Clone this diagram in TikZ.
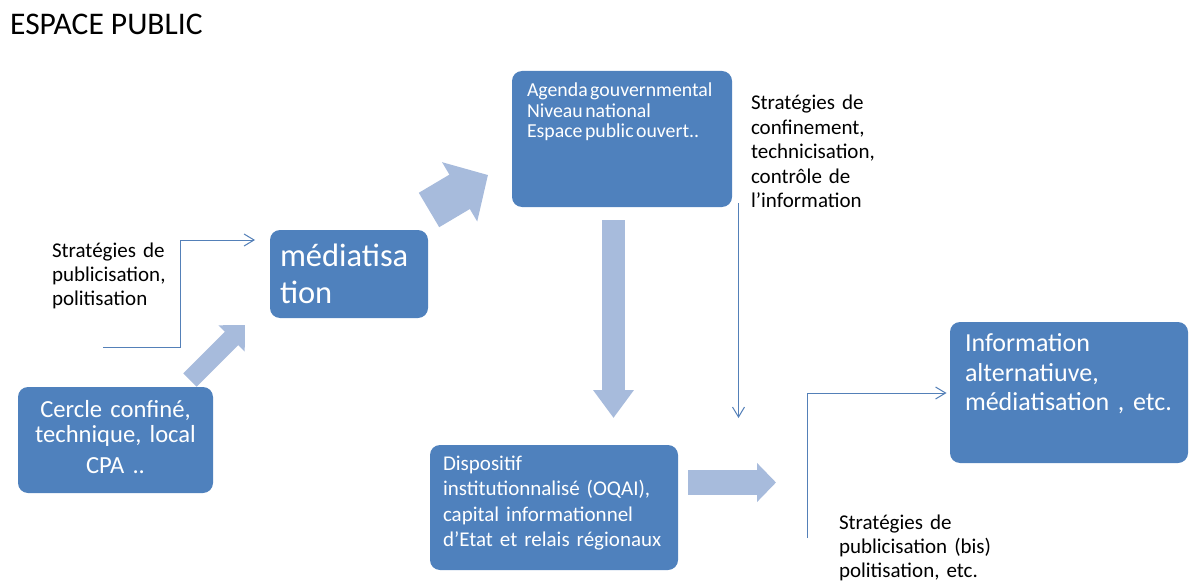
\documentclass[tikz,border=0pt]{standalone}
\usepackage{fontspec}
\setmainfont{Carlito}
\usetikzlibrary{arrows.meta}
\definecolor{boxblue}{RGB}{79,129,189}
\definecolor{arrowfill}{RGB}{167,187,220}
\definecolor{thinline}{RGB}{84,128,184}
\begin{document}
\begin{tikzpicture}[x=1pt,y=-1pt,
  box/.style={fill=boxblue, rounded corners=10pt, inner sep=0pt, outer sep=0pt},
  wtext/.style={text=white, anchor=base west, inner sep=0pt, outer sep=0pt, align=left},
  btext/.style={text=black, anchor=base west, inner sep=0pt, outer sep=0pt, align=left,
    font=\fontsize{21}{24.3}\selectfont},
  blockarrow/.style n args={3}{draw=arrowfill, line width=#1pt,
    -{Triangle[width=#2pt,length=#3pt,fill=arrowfill]}},
  thin/.style={draw=thinline, line width=1pt, -{Straight Barb[length=10pt,width=12pt]}}]
\useasboundingbox (0,0) rectangle (1189,583);

% title
\node[anchor=base west, inner sep=0pt, font=\fontsize{31.5}{36}\selectfont] (title) at (10,35) {ESPACE PUBLIC};

% boxes
\node[box, minimum width=195pt, minimum height=106pt] (cercle) at (115.5,440) {};
\node[box, minimum width=158pt, minimum height=88pt] (media) at (349,274) {};
\node[box, minimum width=220pt, minimum height=136pt] (agenda) at (622,139) {};
\node[box, minimum width=248pt, minimum height=125pt] (dispo) at (554,507.5) {};
\node[box, minimum width=238pt, minimum height=141pt] (info) at (1069,392.5) {};

% box texts
\node[wtext, align=center, text width=195pt, font=\fontsize{24.6}{25.5}\selectfont] (cercletxt) at (18,417)
  {Cercle confiné,\\ technique, local\\[5pt] CPA ..};
\node[wtext, text width=150pt, font=\fontsize{32.5}{37}\selectfont] (mediatxt) at (280,266)
  {médiatisa\\ tion};
\node[wtext, text width=215pt, font=\fontsize{19.8}{20.5}\selectfont] (agendatxt) at (527,96.7)
  {\spaceskip=2.5pt\relax Agenda gouvernmental\\ Niveau national\\ Espace public ouvert..};
\node[wtext, text width=240pt, font=\fontsize{21}{25.5}\selectfont] (dispotxt) at (443,470)
  {Dispositif\\ institutionnalisé (OQAI),\\ capital informationnel\\ d’Etat et relais régionaux};
\node[wtext, text width=225pt, font=\fontsize{26}{29.5}\selectfont] (infotxt) at (965,351.5)
  {Information\\ alternatiuve,\\ médiatisation , etc.};

% black annotations
\node[btext, text width=125pt] (s1txt) at (52,257) {Stratégies de\\ publicisation,\\ politisation};
\node[btext, text width=145pt, font=\fontsize{21}{24.5}\selectfont] (s2txt) at (751,110) {Stratégies de\\ confinement,\\ technicisation,\\ contrôle de\\ l’information};
\node[btext, text width=185pt] (s3txt) at (839,529) {Stratégies de\\ publicisation (bis)\\ politisation, etc.};

% block arrows
\coordinate (b1s) at (190,380); \coordinate (b1e) at (245,325);
\coordinate (b2s) at (429,210); \coordinate (b2e) at (488,175);
\coordinate (b3s) at (613.5,220); \coordinate (b3e) at (613.5,418);
\coordinate (b4s) at (688,482.5); \coordinate (b4e) at (776,482.5);
\draw[blockarrow={19}{36}{19}] (b1s) -- (b1e);
\draw[blockarrow={40}{67}{33}] (b2s) -- (b2e);
\draw[blockarrow={23}{39}{28}] (b3s) -- (b3e);
\draw[blockarrow={25}{38}{19}] (b4s) -- (b4e);

% thin connectors
\coordinate (t1s) at (103,347); \coordinate (t1e) at (255,240);
\coordinate (t2s) at (738.5,203); \coordinate (t2e) at (738.5,418);
\coordinate (t3s) at (807,538); \coordinate (t3e) at (946.5,393);
\draw[thin] (t1s) -- (180.5,347) |- (t1e);
\draw[thin] (t2s) -- (t2e);
\draw[thin] (t3s) |- (t3e);
\end{tikzpicture}
\end{document}
